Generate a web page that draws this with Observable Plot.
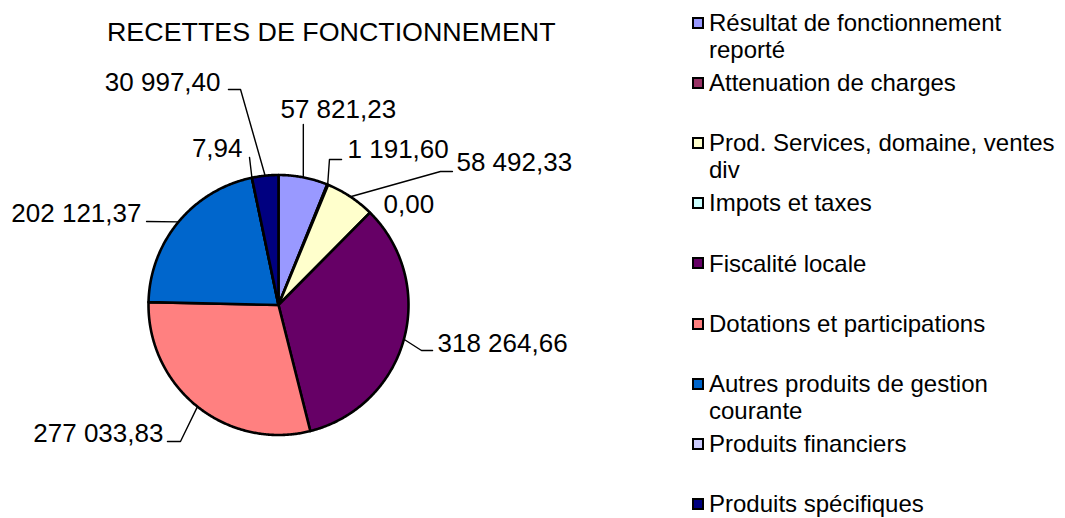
<!DOCTYPE html>
<html><head><meta charset="utf-8">
<script src="https://cdn.jsdelivr.net/npm/d3@7"></script>
<script src="https://cdn.jsdelivr.net/npm/@observablehq/plot@0.6"></script>
<style>
html,body{margin:0;padding:0;background:#fff;}
#wrap{position:relative;width:1065px;height:518px;overflow:hidden;font-family:"Liberation Sans",Arial,sans-serif;color:#000;background:#fff;}
#wrap svg{position:absolute;left:0;top:0;}
.title{position:absolute;left:107px;top:17.4px;font-size:25px;line-height:30px;white-space:nowrap;transform:scaleX(1.073);transform-origin:0 0;}
.sw{position:absolute;left:692px;width:12px;height:12px;border:2px solid #000;box-sizing:border-box;}
.lt{position:absolute;left:709px;width:356px;font-size:24px;line-height:27px;}
</style></head>
<body><div id="wrap"></div>
<script>
// ---- data ----
const title = "RECETTES DE FONCTIONNEMENT";
const categories = [
  "Résultat de fonctionnement reporté",
  "Attenuation de charges",
  "Prod. Services, domaine, ventes div",
  "Impots et taxes",
  "Fiscalité locale",
  "Dotations et participations",
  "Autres produits de gestion courante",
  "Produits financiers",
  "Produits spécifiques"
];
const values = [57821.23, 1191.60, 58492.33, 0.00, 318264.66, 277033.83, 202121.37, 7.94, 30997.40];
const colors = ["#9999FF", "#993366", "#FFFFCC", "#CCFFFF", "#660066", "#FF8080", "#0066CC", "#CCCCFF", "#000080"];

// ---- label layout (in pie-radius units, y up) ----
const labelXY = [[0.015,1.435],[0.531,1.127],[1.369,1.027],[0.808,0.704],[1.223,-0.358],[-0.885,-1.05],[-1.054,0.635],[-0.277,1.135],[-0.446,1.65]];
const labelAnchor = ["start","start","start","start","start","end","end","end","end"];
const leaderElbows = [
  [[0.191,1.388]],
  [[0.392,1.119],[0.485,1.119]],
  [[1.246,1.027],[1.338,1.027]],
  [],
  [[1.1,-0.35],[1.185,-0.35]],
  [[-0.754,-1.05],[-0.854,-1.05]],
  [[-1.015,0.642]],
  [[-0.223,1.135]],
  [[-0.292,1.658],[-0.385,1.658]]
];

const fmt = d3.formatLocale({decimal: ",", thousands: " ", grouping: [3], currency: ["", ""]}).format(",.2f");

const total = d3.sum(values);
let acc = 0;
const slices = categories.map((name, i) => {
  const a0 = acc / total * 2 * Math.PI;
  acc += values[i];
  const a1 = acc / total * 2 * Math.PI;
  return {name, value: values[i], a0, a1, mid: (a0 + a1) / 2, i};
});

const slicePts = [];
for (const s of slices) {
  if (s.value <= 0) continue;
  slicePts.push({name: s.name, x: 0, y: 0});
  const n = Math.max(2, Math.ceil((s.a1 - s.a0) / (Math.PI / 360)));
  for (let k = 0; k <= n; k++) {
    const a = s.a0 + (s.a1 - s.a0) * k / n;
    slicePts.push({name: s.name, x: Math.sin(a), y: Math.cos(a)});
  }
  slicePts.push({name: s.name, x: 0, y: 0});
}

const leaderPts = [];
for (const s of slices) {
  const el = leaderElbows[s.i];
  if (!el.length) continue;
  leaderPts.push({name: s.name, x: Math.sin(s.mid), y: Math.cos(s.mid)});
  for (const [x, y] of el) leaderPts.push({name: s.name, x, y});
}

const labels = slices.map(s => ({name: s.name, text: fmt(s.value), x: labelXY[s.i][0], y: labelXY[s.i][1], anchor: labelAnchor[s.i]}));

const font = '"Liberation Sans", Arial, sans-serif';
const plot = Plot.plot({
  width: 1065,
  height: 518,
  margin: 0,
  x: {domain: [-1, 1], range: [148, 408], axis: null},
  y: {domain: [-1, 1], range: [434.5, 174.5], axis: null},
  color: {domain: categories, range: colors},
  style: {fontFamily: font, background: "transparent", overflow: "visible"},
  marks: [
    Plot.line(slicePts, {x: "x", y: "y", z: "name", fill: "name", stroke: "black", strokeWidth: 2.6, strokeLinejoin: "round", curve: "linear"}),
    Plot.line(leaderPts, {x: "x", y: "y", z: "name", stroke: "black", strokeWidth: 1.4, curve: "linear"}),
    Plot.text(labels.filter(d => d.anchor === "start"), {x: "x", y: "y", text: "text", textAnchor: "start", lineAnchor: "bottom", fontSize: 26, fill: "black", fontFamily: font}),
    Plot.text(labels.filter(d => d.anchor === "end"), {x: "x", y: "y", text: "text", textAnchor: "end", lineAnchor: "bottom", fontSize: 26, fill: "black", fontFamily: font})
  ]
});

const wrap = document.getElementById("wrap");
wrap.appendChild(plot);

const t = document.createElement("div");
t.className = "title";
t.textContent = title;
wrap.appendChild(t);

categories.forEach((name, i) => {
  const base = 30.5 + 60.2 * i;
  const sw = document.createElement("div");
  sw.className = "sw";
  sw.style.top = (base - 14) + "px";
  sw.style.background = colors[i];
  wrap.appendChild(sw);
  const lt = document.createElement("div");
  lt.className = "lt";
  lt.style.top = (base - 21.8) + "px";
  lt.textContent = name;
  wrap.appendChild(lt);
});
</script></body></html>
